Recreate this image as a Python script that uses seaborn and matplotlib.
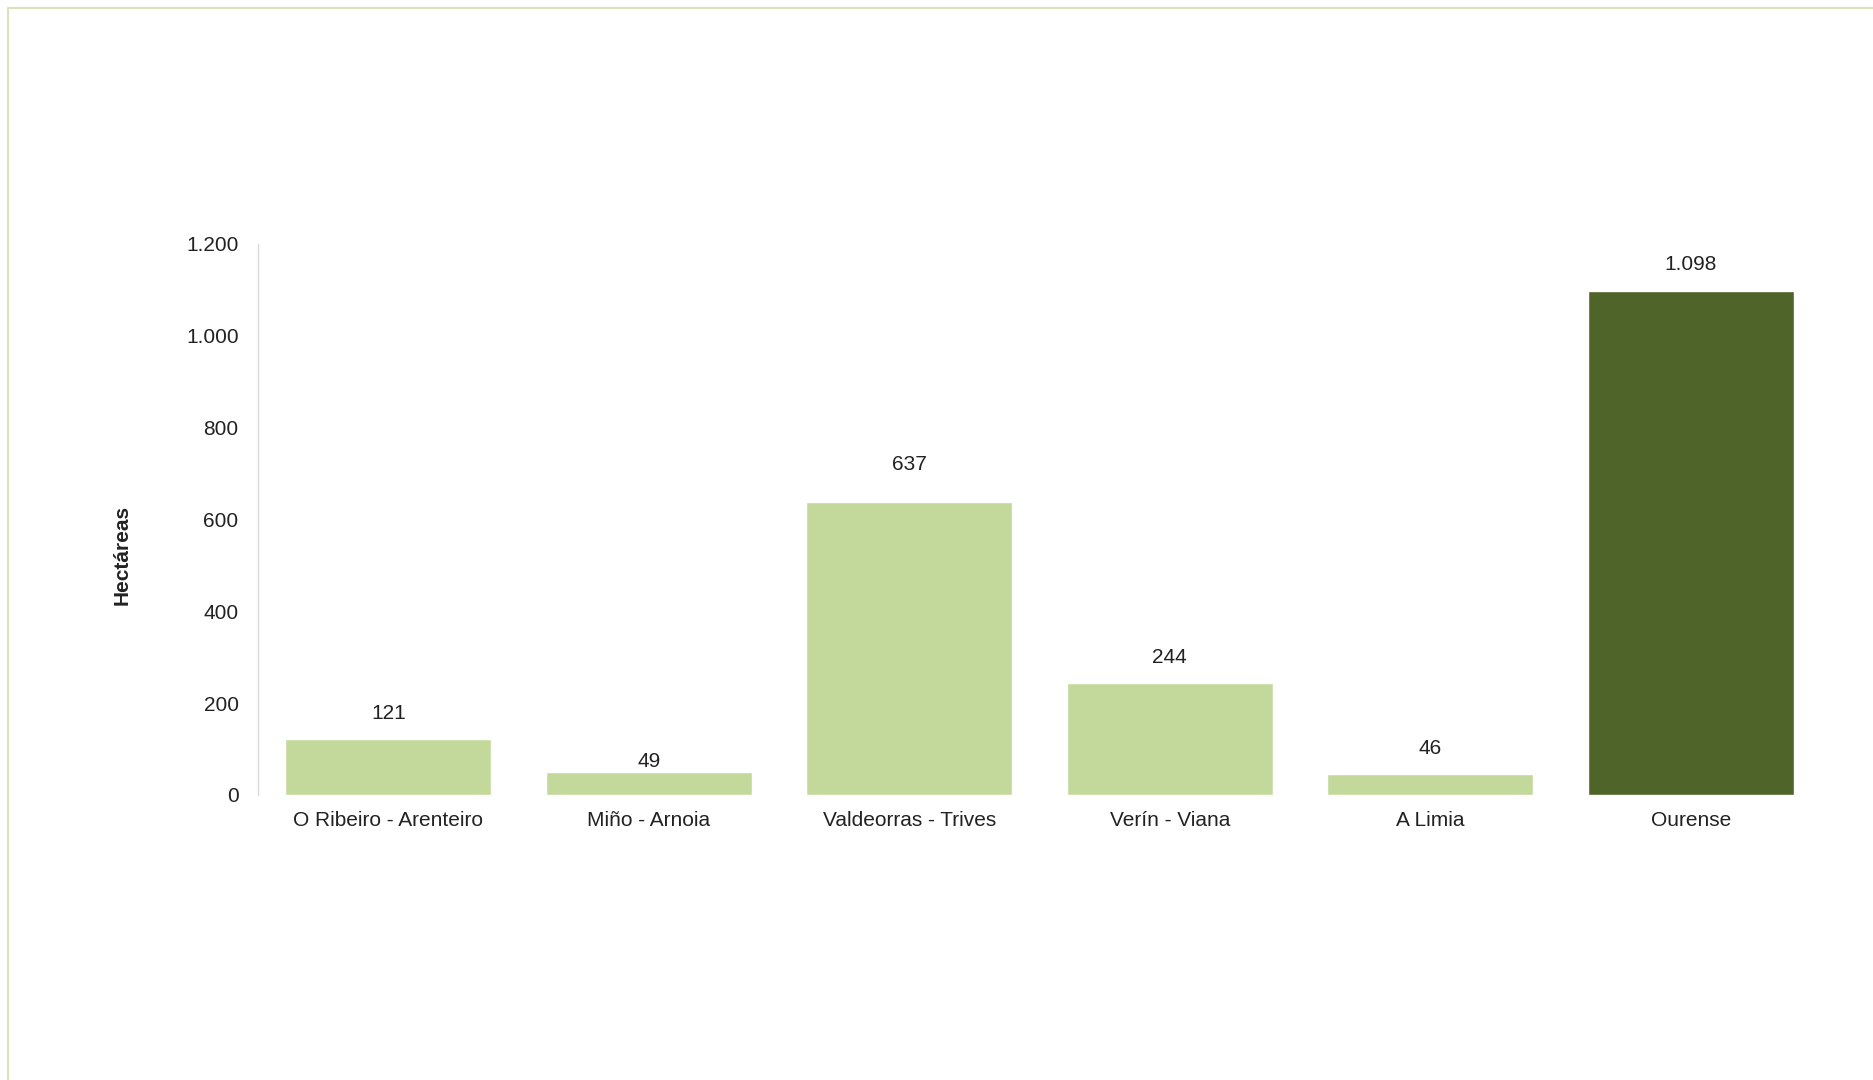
import pandas as pd
import seaborn as sns
import matplotlib.pyplot as plt
from matplotlib.patches import Rectangle
from matplotlib.ticker import FuncFormatter

# Datos: superficie por comarca (hectáreas)
comarcas = ['O Ribeiro - Arenteiro', 'Miño - Arnoia', 'Valdeorras - Trives',
            'Verín - Viana', 'A Limia', 'Ourense']
hectareas = [121, 49, 637, 244, 46, 1098]
y_ticks = [0, 200, 400, 600, 800, 1000, 1200]

# estilo
colores = ['#c3d99b', '#c3d99b', '#c3d99b', '#c3d99b', '#c3d99b', '#4e6428']
desplaz_etiqueta = [19, 8, 27, 18, 18, 19]  # puntos sobre la barra
color_texto = '#222222'

df = pd.DataFrame({'comarca': comarcas, 'ha': hectareas})

sns.set_theme(style='white')
plt.rcParams['font.family'] = ['Liberation Sans', 'DejaVu Sans']

fig = plt.figure(figsize=(18.74, 10.8), dpi=100)
ax = fig.add_axes([0.1377, 0.2639, 0.834, 0.5102])

sns.barplot(data=df, x='comarca', y='ha', hue='comarca', palette=colores,
            order=comarcas, hue_order=comarcas, width=0.79, legend=False,
            saturation=1, ax=ax)

ax.set_xlim(-0.5, len(comarcas) - 0.5)
ax.set_ylim(0, 1200)
ax.set_yticks(y_ticks)
ax.yaxis.set_major_formatter(FuncFormatter(lambda v, p: f'{int(v):,}'.replace(',', '.')))

ax.set_xlabel('')
ax.set_ylabel('Hectáreas', fontsize=15, fontweight='bold', color=color_texto)
ax.yaxis.set_label_coords(-0.081, 0.436)
ax.tick_params(axis='y', length=0, pad=14, labelsize=15, labelcolor=color_texto)
ax.tick_params(axis='x', length=0, pad=11.5, labelsize=15, labelcolor=color_texto)

for s in ['top', 'right', 'bottom']:
    ax.spines[s].set_visible(False)
ax.spines['left'].set_color('#d9d9d9')
ax.spines['left'].set_linewidth(1.0)

# etiquetas de valores
for i, (v, off) in enumerate(zip(hectareas, desplaz_etiqueta)):
    txt = f'{v:,}'.replace(',', '.')
    ax.annotate(txt, xy=(i, v), xytext=(0, off), textcoords='offset points',
                ha='center', va='center', fontsize=15, color=color_texto)

# marco verde claro
fig.patches.append(Rectangle((8 / 1874, -0.2), 1.3, 1.2 - 8 / 1080,
                             transform=fig.transFigure, fill=False,
                             edgecolor='#d7e4bd', linewidth=1.5, clip_on=False))

fig.savefig('out.png', dpi=100, facecolor='white')
